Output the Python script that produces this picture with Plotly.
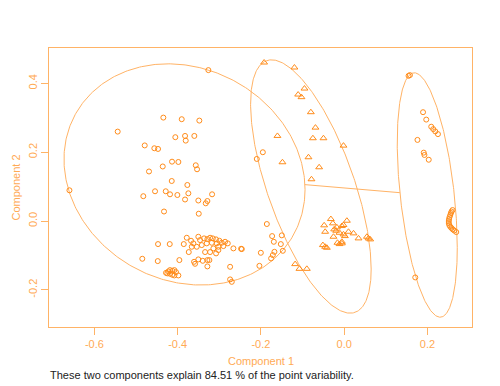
import numpy as np
import plotly.graph_objects as go

# ---- data (Component 1, Component 2) ----
c1_x = [-0.3262, -0.6599, -0.5440, -0.4344, -0.3902, -0.3479, -0.4056, -0.3822, -0.3806, -0.3599,
        -0.4791, -0.4560, -0.4471, -0.4135, -0.3983, -0.3565, -0.3534, -0.4358, -0.4688, -0.4142,
        -0.3767, -0.4543, -0.4286, -0.4183, -0.4007, -0.3743, -0.3173, -0.4825, -0.3822, -0.3503,
        -0.3325, -0.3286, -0.4327, -0.3493, -0.1954, -0.2099,
        -0.4471, -0.4190, -0.3853, -0.3781, -0.3678, -0.3623, -0.3503, -0.3462, -0.3365, -0.3286,
        -0.3221, -0.3156, -0.3077, -0.2998, -0.2940, -0.2861, -0.2796, -0.2661, -0.2459, -0.3661,
        -0.3541, -0.3421, -0.3301, -0.3180, -0.3060, -0.3022, -0.3142, -0.2901, -0.3733, -0.3341,
        -0.3221, -0.3077, -0.3022, -0.4849, -0.4478, -0.3959, -0.3606, -0.3582, -0.3503, -0.3397,
        -0.3286, -0.3238, -0.3286, -0.2740,
        -0.4279, -0.4224, -0.4183, -0.4127, -0.4079, -0.4039, -0.3983, -0.4079, -0.4127, -0.4183, -0.4248,
        -0.2740, -0.2700,
        -0.1858, -0.1731, -0.1498, -0.1690, -0.1522, -0.1474, -0.1675, -0.1714, -0.1755, -0.2002,
        -0.2036, -0.2476]
c1_y = [0.4387, 0.0894, 0.2600, 0.3007, 0.2960, 0.2920, 0.2437, 0.2474, 0.2338, 0.2474,
        0.2198, 0.2116, 0.2096, 0.1726, 0.1717, 0.1621, 0.1505, 0.1586, 0.1441, 0.1164,
        0.1048, 0.0865, 0.0865, 0.0777, 0.0757, 0.0806, 0.0777, 0.0722, 0.0626, 0.0597,
        0.0515, 0.0582, 0.0277, 0.0213, 0.2000, 0.1805,
        -0.0670, -0.0670, -0.0670, -0.0486, -0.0573, -0.0649, -0.0457, -0.0553, -0.0504, -0.0524,
        -0.0486, -0.0504, -0.0533, -0.0573, -0.0632, -0.0603, -0.0649, -0.0795, -0.0815, -0.0748,
        -0.0748, -0.0699, -0.0649, -0.0632, -0.0649, -0.0748, -0.0795, -0.0728, -0.0902, -0.0902,
        -0.0902, -0.0940, -0.0844, -0.1097, -0.1164, -0.1135, -0.1185, -0.1243, -0.1115, -0.1156,
        -0.1135, -0.1135, -0.1319, -0.1330,
        -0.1505, -0.1464, -0.1426, -0.1447, -0.1426, -0.1485, -0.1581, -0.1581, -0.1563, -0.1534, -0.1522,
        -0.1697, -0.1767,
        -0.0087, -0.0437, -0.0416, -0.0603, -0.0670, -0.0865, -0.0894, -0.0990, -0.1086, -0.0923,
        -0.1302, -0.0806]

c2_x = [-0.1923, -0.1195, -0.0954, -0.1106, -0.1026, -0.0801, -0.0690, -0.0752, -0.0498, -0.1603,
        -0.0858, -0.1483, -0.0601, -0.0786, -0.0017, -0.1178, -0.1075, -0.0897,
        -0.0320, -0.0481, -0.0272, -0.0457, -0.0240, -0.0192, -0.0175, -0.0055, 0.0065, -0.0017,
        -0.0113, -0.0017, 0.0017, 0.0103, 0.0224, -0.0257, -0.0055, -0.0161, -0.0113, -0.0055,
        0.0344, 0.0546, 0.0584, 0.0625, -0.0512, -0.0457, -0.0416]
c2_y = [0.4608, 0.4463, 0.3851, 0.3677, 0.3601, 0.3164, 0.2716, 0.2407, 0.2407, 0.2474,
        0.1854, 0.1709, 0.1563, 0.1214, 0.2192, -0.1252, -0.1389, -0.1389,
        0.0058, -0.0125, -0.0067, -0.0312, -0.0242, -0.0282, -0.0183, -0.0146, 0.0009, -0.0116,
        -0.0341, -0.0387, -0.0437, -0.0312, -0.0358, -0.0457, -0.0603, -0.0632, -0.0670, -0.0649,
        -0.0504, -0.0457, -0.0504, -0.0533, -0.0699, -0.0748, -0.0777]

c3_x = [0.1546, 0.1579, 0.1894, 0.1971, 0.2091, 0.2139, 0.2188, 0.2252, 0.1760, 0.1911,
        0.1928, 0.2031, 0.1707,
        0.2603, 0.2579, 0.2565, 0.2548, 0.2531, 0.2519, 0.2512, 0.2512, 0.2524, 0.2548,
        0.2577, 0.2608, 0.2644, 0.2692]
c3_y = [0.4221, 0.4241, 0.3164, 0.2949, 0.2742, 0.2672, 0.2605, 0.2527, 0.2358, 0.1988,
        0.1921, 0.1782, -0.1639,
        0.0320, 0.0277, 0.0233, 0.0175, 0.0116, 0.0058, 0.0000, -0.0058, -0.0116, -0.0166,
        -0.0204, -0.0242, -0.0277, -0.0320]

# ellipses: centre and shape matrix
ell_cx = [-0.3835, -0.0800, 0.1995]
ell_cy = [0.1355, 0.1004, 0.0757]
ell_sxx = [0.08381, 0.02097, 0.00520]
ell_syy = [0.10336, 0.13560, 0.12620]
ell_sxy = [-0.01274, -0.03475, -0.01100]

x_ticks = [-0.6, -0.4, -0.2, 0.0, 0.2]
x_tick_labels = ["-0.6", "-0.4", "-0.2", "0.0", "0.2"]
y_ticks = [-0.2, 0.0, 0.2, 0.4]
y_tick_labels = ["-0.2", "0.0", "0.2", "0.4"]

caption = "These two components explain 84.51 % of the point variability."

# ---- styling ----
PT = "#FF8C1A"
LN = "#FFB366"
TX = "#FFAA55"
FONT = "Liberation Sans, Arial, sans-serif"

fig = go.Figure()

t = np.linspace(0, 2 * np.pi, 400)
mats = []
for cx, cy, a, b, c in zip(ell_cx, ell_cy, ell_sxx, ell_syy, ell_sxy):
    M = np.array([[a, c], [c, b]])
    mats.append(M)
    L = np.linalg.cholesky(M)
    pts = L @ np.vstack([np.cos(t), np.sin(t)])
    fig.add_trace(go.Scatter(x=cx + pts[0], y=cy + pts[1], mode="lines",
                             line=dict(color=LN, width=1), hoverinfo="skip", showlegend=False))

# segment between cluster 1 and 3 centres, clipped at ellipse boundaries
c_a = np.array([ell_cx[0], ell_cy[0]])
c_b = np.array([ell_cx[2], ell_cy[2]])
d = c_b - c_a
ta = 1 / np.sqrt(d @ np.linalg.inv(mats[0]) @ d)
tb = 1 / np.sqrt(d @ np.linalg.inv(mats[2]) @ d)
p1 = c_a + ta * d
p2 = c_b - tb * d
fig.add_trace(go.Scatter(x=[p1[0], p2[0]], y=[p1[1], p2[1]], mode="lines",
                         line=dict(color=LN, width=1), hoverinfo="skip", showlegend=False))

fig.add_trace(go.Scatter(x=c1_x, y=c1_y, mode="markers",
                         marker=dict(symbol="circle-open", size=5, color=PT, line=dict(width=1)),
                         showlegend=False))
fig.add_trace(go.Scatter(x=c2_x, y=c2_y, mode="markers",
                         marker=dict(symbol="triangle-up-open", size=6, color=PT, line=dict(width=1)),
                         showlegend=False))
fig.add_trace(go.Scatter(x=c3_x, y=c3_y, mode="markers",
                         marker=dict(symbol="circle-open", size=5, color=PT, line=dict(width=1)),
                         showlegend=False))

axis_common = dict(showgrid=False, zeroline=False, showline=True, mirror=True,
                   linecolor=LN, linewidth=1, ticks="outside", ticklen=7,
                   tickcolor=LN, tickwidth=1, automargin=False,
                   tickfont=dict(family=FONT, size=11, color=TX))

fig.update_xaxes(range=[-0.709, 0.307], tickvals=x_ticks, ticktext=x_tick_labels, **axis_common)
fig.update_yaxes(range=[-0.308, 0.503], tickvals=y_ticks, ticktext=y_tick_labels,
                 tickangle=-90, **axis_common)

fig.add_annotation(text="Component 1", xref="paper", yref="paper", x=0.5, y=0,
                   xanchor="center", yanchor="middle", yshift=-34, showarrow=False,
                   borderpad=0, font=dict(family=FONT, size=11, color=TX))
fig.add_annotation(text="Component 2", xref="paper", yref="paper", x=0, y=0.5,
                   xanchor="center", yanchor="middle", xshift=-34, textangle=-90,
                   showarrow=False, font=dict(family=FONT, size=11, color=TX))
fig.add_annotation(text=caption, xref="paper", yref="paper", x=0, y=0, xanchor="left",
                   yanchor="middle", yshift=-48, showarrow=False, borderpad=0,
                   font=dict(family=FONT, size=11, color="#222222"))

fig.update_layout(width=492, height=378, margin=dict(l=41, r=28, t=40, b=59),
                  paper_bgcolor="white", plot_bgcolor="white")

fig.write_html("out.html")
